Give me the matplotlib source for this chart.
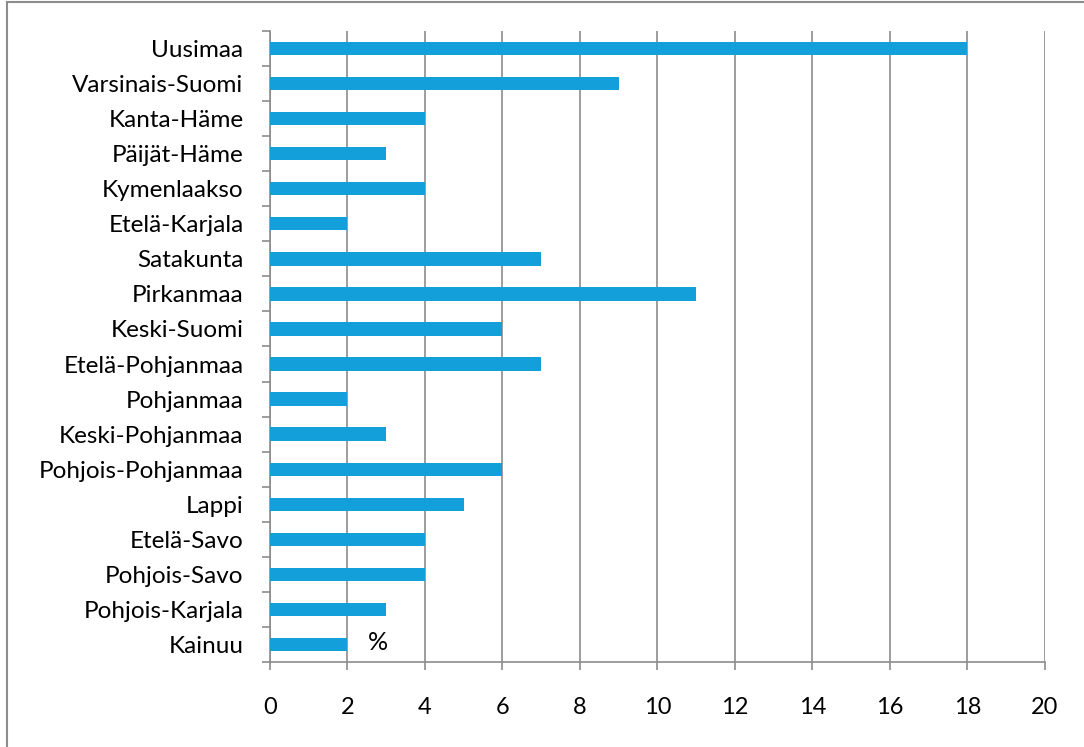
import matplotlib.pyplot as plt
from matplotlib.lines import Line2D
import numpy as np

plt.rcParams['font.family'] = ['Lato', 'DejaVu Sans']

regions = ["Uusimaa", "Varsinais-Suomi", "Kanta-Häme", "Päijät-Häme", "Kymenlaakso",
           "Etelä-Karjala", "Satakunta", "Pirkanmaa", "Keski-Suomi", "Etelä-Pohjanmaa",
           "Pohjanmaa", "Keski-Pohjanmaa", "Pohjois-Pohjanmaa", "Lappi", "Etelä-Savo",
           "Pohjois-Savo", "Pohjois-Karjala", "Kainuu"]
values = [18, 9, 4, 3, 4, 2, 7, 11, 6, 7, 2, 3, 6, 5, 4, 4, 3, 2]
xticks = list(range(0, 21, 2))

grey = "#8c8c8c"

fig = plt.figure(figsize=(10.84, 7.47), dpi=100)
ax = fig.add_axes([0.249, 0.1138, 0.715, 0.8447])

y = np.arange(len(regions))[::-1]
ax.barh(y, values, height=0.38, color="#129FDA", zorder=3)

ax.set_xlim(0, 20)
ax.set_ylim(-0.5, len(regions) - 0.5)
ax.set_xticks(xticks)
ax.set_xticklabels([str(t) for t in xticks], fontsize=17)
ax.set_yticks(y)
ax.set_yticklabels(regions, fontsize=17.5)
ax.tick_params(axis='y', length=0, pad=19)
ax.set_yticks(np.arange(-0.5, len(regions), 1), minor=True)
ax.tick_params(axis='y', which='minor', length=6, color=grey, width=1.2)
ax.tick_params(axis='x', length=6, color=grey, width=1.2, pad=19)

ax.grid(axis='x', color=grey, linewidth=1.2, zorder=0)
for s in ['top', 'right']:
    ax.spines[s].set_visible(False)
for s in ['left', 'bottom']:
    ax.spines[s].set_color(grey)
    ax.spines[s].set_linewidth(1.2)

ax.text(2.8, 0.05, "%", fontsize=18, ha='center', va='center', zorder=4)

# outer frame: only left and top edges visible
fig.lines.append(Line2D([0.0062, 0.0062], [0.0, 0.9973], transform=fig.transFigure,
                        color=grey, linewidth=1.5))
fig.lines.append(Line2D([0.0062, 1.0], [0.9973, 0.9973], transform=fig.transFigure,
                        color=grey, linewidth=1.5))

fig.savefig("out.png", dpi=100)
